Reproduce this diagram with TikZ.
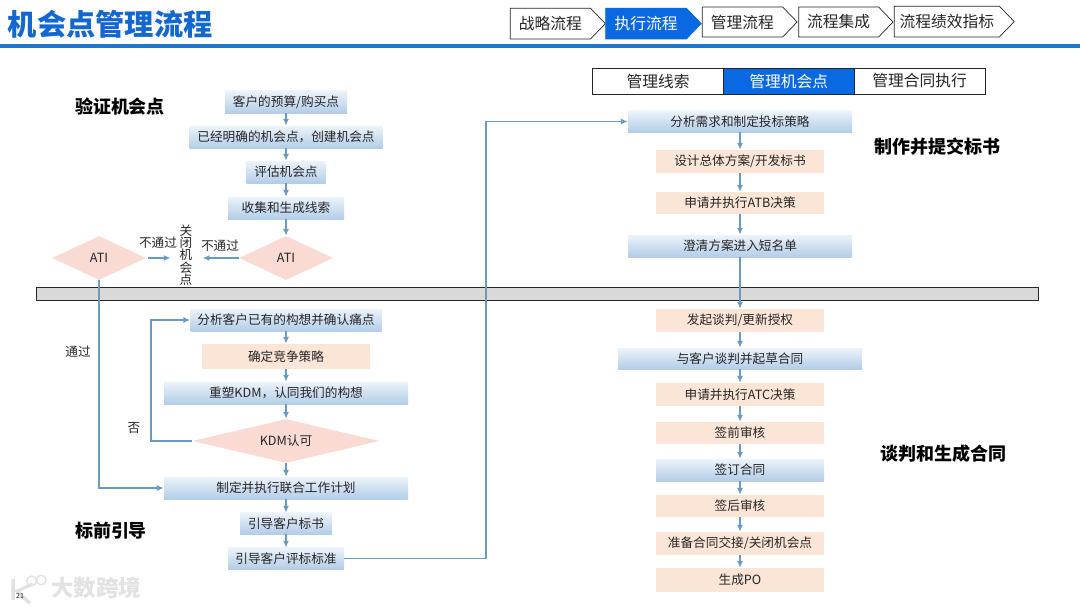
\documentclass[tikz,border=0pt]{standalone}
\usepackage{fontspec}
\setmainfont{Noto Sans CJK SC}
\usetikzlibrary{arrows.meta,shapes.geometric,shapes.symbols}
\definecolor{TitleBlue}{RGB}{18,104,208}
\definecolor{RuleBlue}{RGB}{30,118,208}
\definecolor{ActiveBlue}{RGB}{10,104,224}
\definecolor{FlowLine}{RGB}{104,155,196}
\definecolor{SoftTop}{RGB}{236,243,250}
\definecolor{SoftBottom}{RGB}{178,205,231}
\definecolor{SoftPeach}{RGB}{251,229,214}
\definecolor{SoftPink}{RGB}{250,219,212}
\definecolor{BarGray}{RGB}{217,217,217}
\definecolor{Ink}{RGB}{38,38,38}
\definecolor{Mark}{RGB}{226,226,226}
\tikzset{
  >=Latex,
  box/.style={align=center,text=Ink,font=\fontsize{9}{11}\selectfont,inner sep=0pt,minimum height=.55cm},
  service/.style={box,top color=SoftTop,bottom color=SoftBottom},
  peach/.style={box,fill=SoftPeach,minimum width=4.2cm},
  gate/.style={diamond,fill=SoftPink,text=Ink,font=\fontsize{9}{11}\selectfont,inner sep=0pt,minimum height=1.1cm},
  tab/.style={signal,signal to=east,signal pointer angle=92,draw=Ink,line width=.5pt,fill=white,text=Ink,font=\fontsize{11.2}{13}\selectfont,inner sep=0pt,minimum height=.77cm},
  tabOn/.style={tab,draw=ActiveBlue,fill=ActiveBlue,text=white},
  sub/.style={rectangle,draw=Ink,line width=.5pt,fill=white,text=Ink,font=\fontsize{11.2}{13}\selectfont,inner sep=0pt,minimum height=.65cm},
  subOn/.style={sub,fill=ActiveBlue,text=white},
  heading/.style={font=\fontsize{12.8}{15}\selectfont\bfseries,text=black},
  note/.style={font=\fontsize{9}{11}\selectfont,text=Ink,inner sep=0pt},
  flow/.style={-{Latex[length=1.7mm,width=1.5mm]},line width=1pt,draw=FlowLine}
}
\begin{document}
\begin{tikzpicture}[x=1cm,y=1cm]
  \useasboundingbox (0,0) rectangle (27,15.2);
  \node[font=\fontsize{20.8}{24}\selectfont\bfseries,text=TitleBlue,anchor=west,inner sep=0pt] (title) at (.19,14.6) {机会点管理流程};
  \node[minimum width=27cm,minimum height=.08cm,inner sep=0pt,fill=RuleBlue] (rule) at (13.5,14.05) {};
  \node[tab,minimum width=2.375cm] (tabA) at (13.76,14.61) {战略流程};
  \node[tabOn,minimum width=2.39cm] (tabB) at (16.15,14.61) {\textcolor{white}{执行流程}};
  \node[tab,minimum width=2.375cm,minimum height=.75cm] (tabC) at (18.56,14.65) {管理流程};
  \node[tab,minimum width=2.36cm,minimum height=.75cm] (tabD) at (20.965,14.65) {流程集成};
  \node[tab,minimum width=3cm] (tabE) at (23.67,14.66) {流程绩效指标};
  \node[sub,minimum width=3.275cm] (subA) at (16.45,13.175) {管理线索};
  \node[subOn,minimum width=3.265cm] (subB) at (19.72,13.175) {管理机会点};
  \node[sub,minimum width=3.275cm] (subC) at (22.99,13.175) {管理合同执行};
  \node[rectangle,draw=Ink,line width=.6pt,fill=BarGray,minimum width=25.04cm,minimum height=.325cm,inner sep=0pt] (bar) at (13.43,7.8625) {};
  % headings
  \node[heading] (headCheck) at (3.0,12.525) {验证机会点};
  \node[heading] (headGuide) at (2.775,1.925) {标前引导};
  \node[heading] (headBid) at (23.425,11.525) {制作并提交标书};
  \node[heading] (headTalk) at (23.575,3.85) {谈判和生成合同};
  % left column
  \node[service,minimum width=3.05cm] (budget) at (7.15,12.65) {客户的预算/购买点};
  \node[service,minimum width=4.825cm] (known) at (7.15,11.775) {已经明确的机会点，创建机会点};
  \node[service,minimum width=1.975cm] (assess) at (7.15,10.9) {评估机会点};
  \node[service,minimum width=2.9cm] (leads) at (7.15,10.0) {收集和生成线索};
  \node[gate,aspect=2.14,minimum width=2.35cm] (atiR) at (7.15,8.75) {ATI};
  \node[gate,aspect=2.14,minimum width=2.35cm] (atiL) at (2.475,8.75) {ATI};
  \node[note,align=center,font=\fontsize{9}{8.8}\selectfont] (close) at (4.65,8.825) {关\\闭\\机\\会\\点};
  \node[note] (failL) at (3.95,9.125) {不通过};
  \node[note] (failR) at (5.5,9.05) {不通过};
  \node[note] (pass) at (1.95,6.4) {通过};
  \node[note] (deny) at (3.35,4.5) {否};
  \node[service,minimum width=4.775cm] (analyse) at (7.15,7.2) {分析客户已有的构想并确认痛点};
  \node[peach,minimum height=.625cm] (compete) at (7.15,6.2875) {确定竞争策略};
  \node[service,minimum width=6.1cm] (reshape) at (7.15,5.375) {重塑KDM，认同我们的构想};
  \node[gate,aspect=4.25,minimum width=4.675cm] (kdm) at (7.15,4.175) {KDM认可};
  \node[service,minimum width=6.1cm] (plan) at (7.15,3.0) {制定并执行联合工作计划};
  \node[service,minimum width=2.3cm,minimum height=.53cm] (guideDoc) at (7.15,2.1125) {引导客户标书};
  \node[service,minimum width=2.9cm,minimum height=.53cm] (guideStd) at (7.15,1.2375) {引导客户评标标准};
  % right column
  \node[service,minimum width=5.6cm,minimum height=.53cm] (need) at (18.5,12.1625) {分析需求和制定投标策略};
  \node[peach,minimum height=.575cm] (design) at (18.5,11.1625) {设计总体方案/开发标书};
  \node[peach] (atb) at (18.5,10.125) {申请并执行ATB决策};
  \node[service,minimum width=5.6cm] (clarify) at (18.5,9.05) {澄清方案进入短名单};
  \node[peach,minimum height=.575cm] (launch) at (18.5,7.1875) {发起谈判/更新授权};
  \node[service,minimum width=6.1cm,minimum height=.525cm] (draft) at (18.5,6.2375) {与客户谈判并起草合同};
  \node[peach,minimum height=.575cm] (atc) at (18.5,5.3375) {申请并执行ATC决策};
  \node[peach] (pre) at (18.5,4.375) {签前审核};
  \node[service,minimum width=4.2cm] (sign) at (18.5,3.45) {签订合同};
  \node[peach] (post) at (18.5,2.55) {签后审核};
  \node[peach,minimum height=.575cm] (hand) at (18.5,1.6125) {准备合同交接/关闭机会点};
  \node[peach,minimum height=.6cm] (po) at (18.5,.7) {生成PO};
  % watermark
  \node[text=Mark,font=\fontsize{16}{18}\selectfont\bfseries,inner sep=0pt] (mark) at (2.4,.5) {大数跨境};
  \draw[Mark,line width=2.5pt] (.33,.72)--(.33,.2) (.82,.6)--(.42,.42)--(.75,.12);
  \draw[Mark,line width=1pt] (.79,.68) circle (.12) (1.03,.7) circle (.12);
  \node[font=\fontsize{5}{6}\selectfont,text=Ink,inner sep=0pt] (page) at (.5,.3) {21};
  \coordinate (turn) at (12.15,12.1625);
  \coordinate (loop) at (3.77,7.2);
    \draw[flow] (budget)--(known);
    \draw[flow] (known)--(assess);
    \draw[flow] (assess)--(leads);
    \draw[flow] (leads)--(atiR);
    \draw[flow,shorten >=.25cm] (atiR)--(atiR -| close.east);
    \draw[flow,shorten <=.05cm,shorten >=.22cm] (atiL)--(atiL -| close.west);
    \draw[flow] (atiL.south) |- (plan.west);
    \draw[flow] (analyse)--(compete);
    \draw[flow] (compete)--(reshape);
    \draw[flow] (reshape)--(kdm);
    \draw[flow] (kdm)--(plan);
    \draw[flow] (kdm.west) -| (loop) -- (analyse.west);
    \draw[flow] (plan)--(guideDoc);
    \draw[flow] (guideDoc)--(guideStd);
    \draw[flow] (guideStd.east) -| (turn) -- (need.west);
    \draw[flow] (need)--(design);
    \draw[flow] (design)--(atb);
    \draw[flow] (atb)--(clarify);
    \draw[flow] (clarify)--(launch);
    \draw[flow] (launch)--(draft);
    \draw[flow] (draft)--(atc);
    \draw[flow] (atc)--(pre);
    \draw[flow] (pre)--(sign);
    \draw[flow] (sign)--(post);
    \draw[flow] (post)--(hand);
    \draw[flow] (hand)--(po);
\end{tikzpicture}
\end{document}
